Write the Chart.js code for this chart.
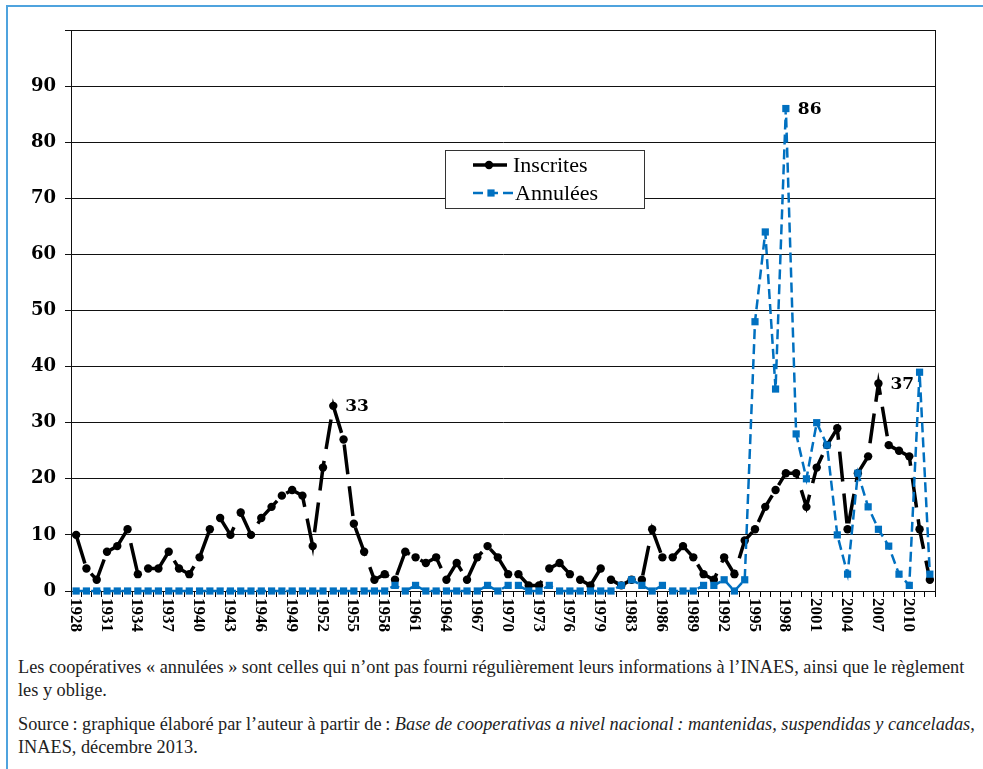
<!DOCTYPE html>
<html lang="fr">
<head>
<meta charset="utf-8">
<title>Coopératives inscrites et annulées, 1928-2012</title>
<script src="https://cdn.jsdelivr.net/npm/chart.js@4.4.1/dist/chart.umd.min.js"></script>
<style>
    html, body { margin: 0; padding: 0; background: #fff; }
    body { width: 983px; height: 769px; position: relative; overflow: hidden; }
    #frame {
        position: absolute; left: 6px; top: 5px; right: 0; bottom: 0;
        border-top: 2px solid #4fa3de; border-left: 2px solid #4fa3de;
    }
    #chart { position: absolute; left: 0; top: 0; }
    #notes {
        position: absolute; left: 18px; top: 656px;
        font: 18.3px/23px "Liberation Serif", serif; color: #222;
        white-space: nowrap;
    }
    #notes p { margin: 0 0 11px; }
</style>
</head>
<body>
<div id="frame"></div>
<canvas id="chart" width="983" height="645"></canvas>
<div id="notes">
    <p>Les coopératives « annulées » sont celles qui n’ont pas fourni régulièrement leurs informations à l’INAES, ainsi que le règlement<br>les y oblige.</p>
    <p>Source&#8239;: graphique élaboré par l’auteur à partir de&#8239;: <i>Base de cooperativas a nivel nacional&#8239;: mantenidas, suspendidas y canceladas</i>,<br>INAES, décembre 2013.</p>
</div>
<script>
// years on the axis (one year between 1979 and 1983 is absent from the source)
var years = [
    '1928', '1929', '1930', '1931', '1932', '1933', '1934', '1935', '1936', '1937',
    '1938', '1939', '1940', '1941', '1942', '1943', '1944', '1945', '1946', '1947',
    '1948', '1949', '1950', '1951', '1952', '1953', '1954', '1955', '1956', '1957',
    '1958', '1959', '1960', '1961', '1962', '1963', '1964', '1965', '1966', '1967',
    '1968', '1969', '1970', '1971', '1972', '1973', '1974', '1975', '1976', '1977',
    '1978', '1979', '1981', '1982', '1983', '1984', '1985', '1986', '1987', '1988',
    '1989', '1990', '1991', '1992', '1993', '1994', '1995', '1996', '1997', '1998',
    '1999', '2000', '2001', '2002', '2003', '2004', '2005', '2006', '2007', '2008',
    '2009', '2010', '2011', '2012'
];

var inscrites = [
    10, 4, 2, 7, 8, 11, 3, 4, 4, 7,
    4, 3, 6, 11, 13, 10, 14, 10, 13, 15,
    17, 18, 17, 8, 22, 33, 27, 12, 7, 2,
    3, 2, 7, 6, 5, 6, 2, 5, 2, 6,
    8, 6, 3, 3, 1, 1, 4, 5, 3, 2,
    1, 4, 2, 1, 2, 2, 11, 6, 6, 8,
    6, 3, 2, 6, 3, 9, 11, 15, 18, 21,
    21, 15, 22, 26, 29, 11, 21, 24, 37, 26,
    25, 24, 11, 2
];

var annulees = [
    0, 0, 0, 0, 0, 0, 0, 0, 0, 0,
    0, 0, 0, 0, 0, 0, 0, 0, 0, 0,
    0, 0, 0, 0, 0, 0, 0, 0, 0, 0,
    0, 1, 0, 1, 0, 0, 0, 0, 0, 0,
    1, 0, 1, 1, 0, 0, 1, 0, 0, 0,
    0, 0, 0, 1, 2, 1, 0, 1, 0, 0,
    0, 1, 1, 2, 0, 2, 48, 64, 36, 86,
    28, 20, 30, 26, 10, 3, 21, 15, 11, 8,
    3, 1, 39, 3
];

var yTicks = [0, 10, 20, 30, 40, 50, 60, 70, 80, 90, 100];

// values written next to a point: [dataset, index]
var callouts = [[0, 25], [1, 69], [0, 78]];

var BLUE = '#0070c0';
var SERIF = '"DejaVu Serif", serif';
var TIMES = '"Liberation Serif", serif';

(function () {
    'use strict';

    var framePlugin = {
        id: 'plotFrame',
        beforeDatasetsDraw: function (chart) {
            var a = chart.chartArea, ctx = chart.ctx;
            ctx.save();
            ctx.strokeStyle = '#111';
            ctx.lineWidth = 1;
            ctx.strokeRect(a.left + 0.5, a.top + 0.5, a.right - a.left, a.bottom - a.top);
            ctx.restore();
        }
    };

    // Excel style labels, reading top to bottom
    var xLabelPlugin = {
        id: 'xLabels',
        afterDraw: function (chart) {
            var sc = chart.scales.x, ctx = chart.ctx;
            ctx.save();
            ctx.font = 'bold 17px ' + TIMES;
            ctx.fillStyle = '#000';
            ctx.textAlign = 'left';
            ctx.textBaseline = 'middle';
            years.forEach(function (y, i) {
                if (i % 3) return;
                var x = sc.getPixelForValue(i) - 1;
                ctx.save();
                ctx.translate(x, sc.top + 7);
                ctx.rotate(Math.PI / 2);
                ctx.fillText(y, 0, 0);
                ctx.restore();
            });
            ctx.restore();
        }
    };

    var calloutPlugin = {
        id: 'callouts',
        afterDatasetsDraw: function (chart) {
            var ctx = chart.ctx;
            ctx.save();
            ctx.font = 'bold 17px ' + SERIF;
            ctx.fillStyle = '#000';
            ctx.textAlign = 'left';
            ctx.textBaseline = 'middle';
            callouts.forEach(function (c) {
                var pt = chart.getDatasetMeta(c[0]).data[c[1]];
                var v = chart.data.datasets[c[0]].data[c[1]];
                ctx.fillText(String(v), pt.x + 12, pt.y + 1);
            });
            ctx.restore();
        }
    };

    var legendPlugin = {
        id: 'boxLegend',
        afterDraw: function (chart) {
            var a = chart.chartArea, ctx = chart.ctx;
            var x = a.left + 374, y = a.top + 120, w = 199, h = 58;
            ctx.save();
            ctx.fillStyle = '#fff';
            ctx.fillRect(x, y, w, h);
            ctx.strokeStyle = '#333';
            ctx.lineWidth = 1;
            ctx.strokeRect(x + 0.5, y + 0.5, w, h);

            // Inscrites
            var r1 = y + 15;
            ctx.strokeStyle = '#000';
            ctx.lineWidth = 3.5;
            ctx.beginPath();
            ctx.moveTo(x + 28, r1);
            ctx.lineTo(x + 62, r1);
            ctx.stroke();
            ctx.fillStyle = '#000';
            ctx.beginPath();
            ctx.arc(x + 44, r1, 4.2, 0, Math.PI * 2);
            ctx.fill();

            // Annulées
            var r2 = y + 43;
            ctx.strokeStyle = BLUE;
            ctx.lineWidth = 2.5;
            ctx.setLineDash([10, 5]);
            ctx.beginPath();
            ctx.moveTo(x + 28, r2);
            ctx.lineTo(x + 68, r2);
            ctx.stroke();
            ctx.setLineDash([]);
            ctx.fillStyle = BLUE;
            ctx.fillRect(x + 46 - 3.6, r2 - 3.6, 7.2, 7.2);

            ctx.fillStyle = '#000';
            ctx.font = '22px ' + TIMES;
            ctx.textAlign = 'left';
            ctx.textBaseline = 'middle';
            ctx.fillText('Inscrites', x + 68, r1 + 1);
            ctx.fillText('Annulées', x + 70, r2 + 1);
            ctx.restore();
        }
    };

    function init() {
        var ctx = document.getElementById('chart');
        new Chart(ctx, {
            type: 'line',
            data: {
                labels: years,
                datasets: [
                    {
                        label: 'Inscrites', data: inscrites, order: 1,
                        borderColor: '#000', borderWidth: 3.5, borderDash: [30, 12],
                        pointStyle: 'circle', pointRadius: 4.2, pointBorderWidth: 0,
                        pointBackgroundColor: '#000', pointBorderColor: '#000',
                        tension: 0, clip: false
                    },
                    {
                        label: 'Annulées', data: annulees, order: 0,
                        borderColor: BLUE, borderWidth: 2.5, borderDash: [10, 5],
                        pointStyle: 'rect', pointRadius: 5.1, pointBorderWidth: 0,
                        pointBackgroundColor: BLUE, pointBorderColor: BLUE,
                        tension: 0, clip: false
                    }
                ]
            },
            options: {
                responsive: false,
                animation: false,
                devicePixelRatio: 1,
                layout: { padding: { left: 0, right: 48, top: 30, bottom: 0 } },
                plugins: {
                    legend: { display: false },
                    tooltip: { enabled: false }
                },
                scales: {
                    x: {
                        type: 'category',
                        offset: true,
                        grid: { display: true, drawOnChartArea: false, drawTicks: true, tickLength: 6, offset: true, color: '#000', lineWidth: 1 },
                        border: { color: '#000', width: 1 },
                        ticks: { display: false, autoSkip: false },
                        afterFit: function (s) { s.height = 54; }
                    },
                    y: {
                        min: yTicks[0],
                        max: yTicks[yTicks.length - 1],
                        afterBuildTicks: function (s) {
                            s.ticks = yTicks.map(function (v) { return { value: v }; });
                        },
                        grid: { color: '#111', lineWidth: 1, tickLength: 6, drawTicks: true },
                        border: { color: '#000', width: 1 },
                        ticks: {
                            padding: 9,
                            color: '#000',
                            font: { family: SERIF, size: 18, weight: 'bold' },
                            callback: function (v) { return v === 100 ? '' : v; }
                        },
                        afterFit: function (s) { s.width = 71; }
                    }
                }
            },
            plugins: [framePlugin, calloutPlugin, legendPlugin, xLabelPlugin]
        });
    }

    init();
})();
</script>
</body>
</html>
